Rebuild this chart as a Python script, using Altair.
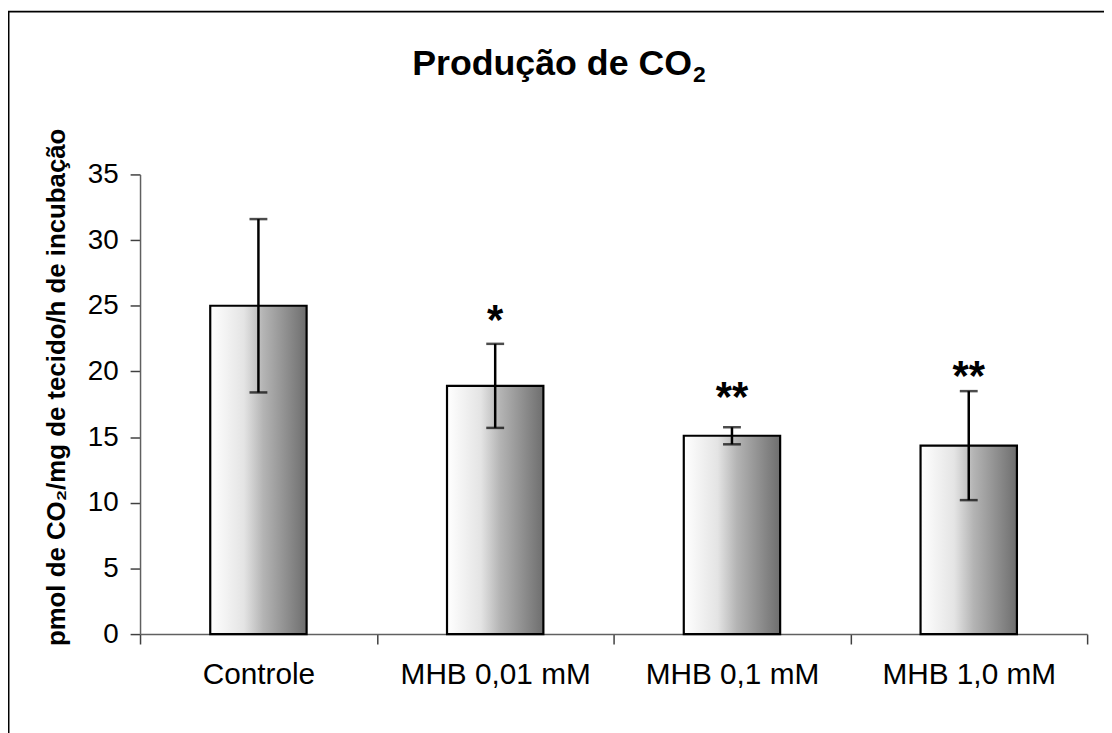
import altair as alt
import pandas as pd

categories = ["Controle", "MHB 0,01 mM", "MHB 0,1 mM", "MHB 1,0 mM"]
means = [25.0, 18.9, 15.1, 14.35]
errors = [6.6, 3.2, 0.65, 4.15]
star_labels = ["*", "**", "**"]
star_cats = ["MHB 0,01 mM", "MHB 0,1 mM", "MHB 1,0 mM"]
star_y = [24.3, 18.4, 20.0]
title_main = "Produção de CO"
title_sub = "2"
y_title = "pmol de CO₂/mg de tecido/h de incubação"

df = pd.DataFrame({
    "cat": categories,
    "mean": means,
    "lo": [m - e for m, e in zip(means, errors)],
    "hi": [m + e for m, e in zip(means, errors)],
})
sdf = pd.DataFrame({"cat": star_cats, "y": star_y, "label": star_labels})

FONT = "Liberation Sans"

xenc = alt.X(
    "cat:N", sort=categories, title=None,
    scale=alt.Scale(paddingInner=0, paddingOuter=0),
    axis=alt.Axis(labelAngle=0, labelFontSize=30, labelFont=FONT, labelColor="black",
                  labelLimit=0,
                  tickBand="extent", tickSize=10, tickColor="#404040", domainColor="#606060",
                  labelPadding=16, domainWidth=1.5, tickWidth=1.5),
)
yscale = alt.Scale(domain=[0, 35], nice=False)

gradient = alt.Gradient(
    gradient="linear",
    stops=[
        alt.GradientStop(color="#ffffff", offset=0),
        alt.GradientStop(color="#e4e4e4", offset=0.35),
        alt.GradientStop(color="#b4b4b4", offset=0.55),
        alt.GradientStop(color="#6e6e6e", offset=1),
    ],
    x1=0, x2=1, y1=0, y2=0,
)

bars = alt.Chart(df).mark_bar(
    width=alt.RelativeBandSize(0.407), fill=gradient, stroke="black", strokeWidth=2.2
).encode(
    x=xenc,
    y=alt.Y("mean:Q", scale=yscale,
            title=y_title,
            axis=alt.Axis(values=[0, 5, 10, 15, 20, 25, 30, 35], grid=False,
                          labelFontSize=28, labelFont=FONT, labelColor="black",
                          tickSize=10, tickColor="#404040", domainColor="#606060",
                          domainWidth=1.5, tickWidth=1.5, labelPadding=12,
                          titleFont=FONT, titleFontSize=26, titleFontWeight="bold",
                          titleColor="black", titleAngle=270, titleX=-76, titleY=214,
                          titleAlign="center", titleBaseline="alphabetic")),
)

rules = alt.Chart(df).mark_rule(color="black", strokeWidth=2.5).encode(
    x=alt.X("cat:N", sort=categories), y=alt.Y("lo:Q", scale=yscale), y2="hi:Q"
)
caps_lo = alt.Chart(df).mark_tick(color="black", size=18, thickness=2.5).encode(
    x=alt.X("cat:N", sort=categories), y=alt.Y("lo:Q", scale=yscale)
)
caps_hi = alt.Chart(df).mark_tick(color="black", size=18, thickness=2.5).encode(
    x=alt.X("cat:N", sort=categories), y=alt.Y("hi:Q", scale=yscale)
)
stars = alt.Chart(sdf).mark_text(
    font=FONT, fontSize=42, fontWeight="bold", color="black",
    baseline="alphabetic", dy=19
).encode(
    x=alt.X("cat:N", sort=categories), y=alt.Y("y:Q", scale=yscale), text="label:N"
)

frame = alt.Chart(alt.Data(values=[{}])).mark_rect(
    filled=False, stroke="black", strokeWidth=2
).encode(
    x=alt.value(-132.5), x2=alt.value(1000), y=alt.value(-164), y2=alt.value(620)
)

title = alt.Chart(alt.Data(values=[{"t": title_main}])).mark_text(
    font=FONT, fontSize=36, fontWeight="bold", color="black",
    baseline="alphabetic", align="right"
).encode(
    x=alt.value(556), y=alt.value(-100), text="t:N"
)
title2 = alt.Chart(alt.Data(values=[{"t": title_sub}])).mark_text(
    font=FONT, fontSize=23, fontWeight="bold", color="black",
    baseline="alphabetic", align="left"
).encode(
    x=alt.value(557), y=alt.value(-93), text="t:N"
)

chart = alt.layer(frame, bars, rules, caps_lo, caps_hi, stars, title, title2).properties(
    width=954, height=463,
    padding={"left": 133, "top": 165, "right": 17, "bottom": 97},
    autosize="none",
).configure_view(stroke=None)

chart.save("out.html", embed_options={"renderer": "svg", "actions": False})
